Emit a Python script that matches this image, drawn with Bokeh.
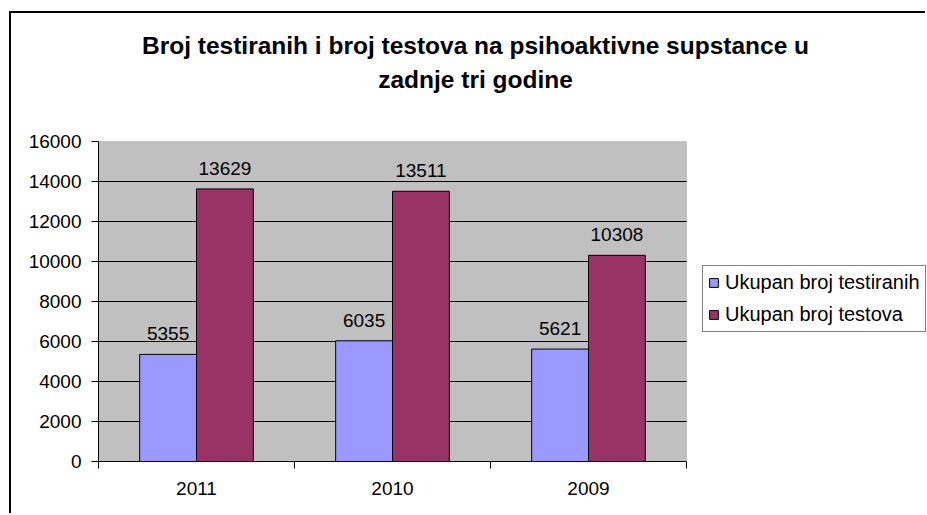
from bokeh.plotting import figure
from bokeh.models import (Range1d, FixedTicker, Legend, LegendItem, LabelSet, Label,
                          ColumnDataSource, NumeralTickFormatter, BoxAnnotation)
from bokeh.core.properties import value
from bokeh.embed import file_html
from bokeh.resources import INLINE
import numpy as np

# ---- data ----
years = ["2011", "2010", "2009"]
testirani = [5355, 6035, 5621]
testovi = [13629, 13511, 10308]
series_names = ["Ukupan broj testiranih", "Ukupan broj testova"]
title_lines = ["Broj testiranih i broj testova na psihoaktivne supstance u",
               "zadnje tri godine"]
y_ticks = list(range(0, 16001, 2000))
y_max = 16000

FONT = "Liberation Sans"
BLUE = "#9999FF"
MAROON = "#993366"

# ---- layout (pixels) ----
W, H = 916, 502          # canvas size (inside the css border)
LEFT, BOTTOM = 87, 54    # space for the axes
PLOT_W, PLOT_H = 588, 320  # size of the grey plotting area

n = len(years)
centers = np.arange(n) + 0.5
bw = 0.29

frame_w = W - LEFT
frame_h = H - BOTTOM
x_end = n * frame_w / PLOT_W
y_end = y_max * frame_h / PLOT_H

p = figure(width=W, height=H, output_backend="svg", toolbar_location=None,
           x_range=Range1d(0, x_end), y_range=Range1d(0, y_end),
           min_border_left=LEFT, min_border_right=0, min_border_top=0,
           min_border_bottom=BOTTOM, title=None)
p.styles = {"margin-left": "9px", "margin-top": "11px",
            "border-left": "2px solid black", "border-top": "2px solid black"}
p.background_fill_color = "white"
p.border_fill_color = "white"
p.outline_line_color = None

# grey plotting area
p.add_layout(BoxAnnotation(left=0, right=n, bottom=0, top=y_max,
                           fill_color="#C0C0C0", fill_alpha=1,
                           line_color="#808080", line_width=1, level="underlay"))

# horizontal grid lines limited to the plotting area
gy = y_ticks[1:-1]
p.segment(x0=[0] * len(gy), x1=[n] * len(gy), y0=gy, y1=gy,
          line_color="black", line_width=1)

src1 = ColumnDataSource(dict(x=centers - bw / 2, top=testirani,
                             lab=[str(v) for v in testirani]))
src2 = ColumnDataSource(dict(x=centers + bw / 2, top=testovi,
                             lab=[str(v) for v in testovi]))

r1 = p.vbar(x="x", top="top", width=bw, source=src1, fill_color=BLUE,
            line_color="black", line_width=1)
r2 = p.vbar(x="x", top="top", width=bw, source=src2, fill_color=MAROON,
            line_color="black", line_width=1)

for s in (src1, src2):
    p.add_layout(LabelSet(x="x", y="top", text="lab", source=s, y_offset=14,
                          text_align="center", text_baseline="alphabetic",
                          text_font=value(FONT), text_font_size="19px",
                          text_color="black"))

# x axis
xa = p.xaxis[0]
xa.bounds = (0, n)
xa.ticker = FixedTicker(ticks=list(centers), minor_ticks=list(range(n + 1)))
xa.major_label_overrides = {float(c): y for c, y in zip(centers, years)}
xa.major_tick_out = 0
xa.major_tick_in = 0
xa.minor_tick_out = 7
xa.minor_tick_in = 0
xa.minor_tick_line_color = "black"
xa.axis_line_color = "black"
xa.major_label_text_font = FONT
xa.major_label_text_font_size = "19px"
xa.major_label_text_color = "black"
xa.major_label_standoff = 13

# y axis
ya = p.yaxis[0]
ya.bounds = (0, y_max)
ya.ticker = FixedTicker(ticks=y_ticks)
ya.formatter = NumeralTickFormatter(format="0")
ya.major_tick_out = 7
ya.major_tick_in = 0
ya.major_tick_line_color = "black"
ya.minor_tick_line_color = None
ya.axis_line_color = "black"
ya.major_label_text_font = FONT
ya.major_label_text_font_size = "19px"
ya.major_label_text_color = "black"
ya.major_label_standoff = 10

p.xgrid.grid_line_color = None
p.ygrid.grid_line_color = None

legend = Legend(items=[LegendItem(label=series_names[0], renderers=[r1]),
                       LegendItem(label=series_names[1], renderers=[r2])],
                location=(604, 129), label_text_font=FONT, label_text_font_size="20px",
                label_text_color="black", glyph_width=11, glyph_height=11,
                label_height=20, spacing=9, padding=5, margin=0, label_standoff=6,
                border_line_color="black", border_line_width=1,
                background_fill_color="white", background_fill_alpha=1)
p.add_layout(legend, "center")

for t, yy in zip(title_lines, [416, 382]):
    p.add_layout(Label(x=377, y=yy, x_units="screen", y_units="screen", text=t,
                       text_align="center", text_baseline="alphabetic",
                       text_font=FONT, text_font_size="24.5px", text_font_style="bold",
                       text_color="black"))

open("out.html", "w").write(file_html(p, INLINE))
